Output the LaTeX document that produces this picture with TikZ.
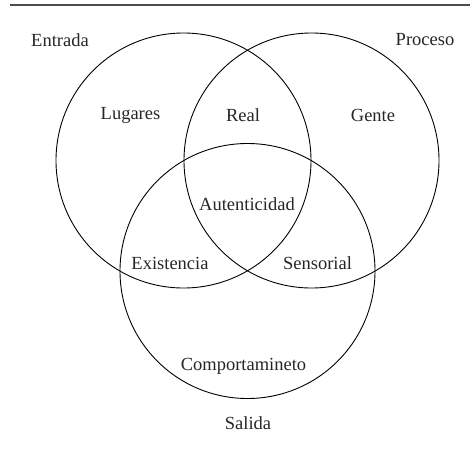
\documentclass[tikz,border=0pt]{standalone}
\usepackage{fontspec}
\setmainfont{Liberation Serif}
\begin{document}
\begin{tikzpicture}[x=0.5pt,y=-0.5pt,
  setcircle/.style={circle,draw=black,line width=0.45pt,minimum size=127.5pt,inner sep=0pt},
  lbl/.style={font=\fontsize{9.25}{11}\selectfont,inner sep=0pt,text=black!85}]
\useasboundingbox (0,0) rectangle (470,455);
\coordinate (ruleL) at (10,5);
\coordinate (ruleR) at (470,5);
\draw[line width=0.7pt,black!70] (ruleL) -- (ruleR);
\node[setcircle] (cin) at (183.5,160.5) {};
\node[setcircle] (cpr) at (311.5,160.5) {};
\node[setcircle] (csa) at (247.5,271) {};
\node[lbl] (entrada) at (60,40) {Entrada};
\node[lbl] (proceso) at (425,40) {Proceso};
\node[lbl] (lugares) at (130.5,115) {Lugares};
\node[lbl] (real) at (243,115) {Real};
\node[lbl] (gente) at (373,115) {Gente};
\node[lbl] (aut) at (247,204) {Autenticidad};
\node[lbl] (exis) at (170,263) {Existencia};
\node[lbl] (sens) at (317.5,263) {Sensorial};
\node[lbl] (comp) at (243.5,366) {Comportamineto};
\node[lbl] (salida) at (248,423) {Salida};
\end{tikzpicture}
\end{document}
